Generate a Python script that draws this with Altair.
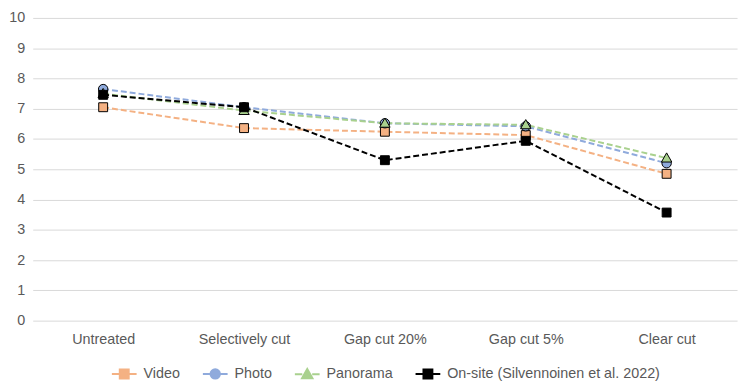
import altair as alt
import pandas as pd

categories = ["Untreated", "Selectively cut", "Gap cut 20%", "Gap cut 5%", "Clear cut"]
series = ["Video", "Photo", "Panorama", "On-site (Silvennoinen et al. 2022)"]
video = [7.05, 6.36, 6.24, 6.13, 4.85]
photo = [7.65, 7.05, 6.52, 6.42, 5.20]
panorama = [7.50, 6.94, 6.52, 6.47, 5.37]
onsite = [7.46, 7.05, 5.30, 5.94, 3.57]
y_ticks = list(range(0, 11))

line_colors = ["#F4B183", "#8FAADC", "#A9D18E", "#000000"]
fill_colors = ["#F4B183", "#8FAADC", "#A9D18E", "#000000"]

# marker shapes (drawn in [-1,1] box, scaled by size)
sq = "M-0.36,-0.36L0.36,-0.36L0.36,0.36L-0.36,0.36Z"
circ = "M-0.38,0A0.38,0.38 0 1,1 0.38,0A0.38,0.38 0 1,1 -0.38,0Z"
tri = "M0,-0.42L0.42,0.32L-0.42,0.32Z"
shape_paths = [sq, circ, tri, sq]
stub = "M-1,0L-0.4,0M0.4,0L1,0"
legend_paths = [stub + p for p in shape_paths]

rows = []
for s, vals in zip(series, [video, photo, panorama, onsite]):
    for c, v in zip(categories, vals):
        rows.append({"category": c, "series": s, "lseries": "l:" + s, "value": v})
df = pd.DataFrame(rows)

FONT = "Liberation Sans"
GREY = "#595959"
FS = 14.5

x = alt.X(
    "category:N",
    sort=categories,
    scale=alt.Scale(padding=0.5),
    axis=alt.Axis(title=None, labelAngle=0, domain=False, ticks=False, grid=False,
                  labelPadding=12, labelFontSize=FS, labelColor=GREY, labelFont=FONT),
)
y = alt.Y(
    "value:Q",
    scale=alt.Scale(domain=[0, 10], nice=False),
    axis=alt.Axis(title=None, values=y_ticks, domain=False, ticks=False, grid=True,
                  gridColor="#D9D9D9", gridWidth=1, labelPadding=8,
                  labelFontSize=FS, labelColor=GREY, labelFont=FONT),
)

base = alt.Chart(df)

lines = base.mark_line(strokeDash=[6, 3], strokeWidth=2).encode(
    x=x, y=y,
    color=alt.Color("series:N", scale=alt.Scale(domain=series, range=line_colors), legend=None),
)

points = base.mark_point(filled=True, opacity=1, size=625, stroke="black", strokeWidth=1).encode(
    x=x, y=y,
    fill=alt.Fill("series:N", scale=alt.Scale(domain=series, range=fill_colors), legend=None),
    shape=alt.Shape("series:N", scale=alt.Scale(domain=series, range=shape_paths), legend=None),
)

lseries = ["l:" + s for s in series]
leg = alt.Legend(
    orient="none", legendX=79, legendY=346, direction="horizontal", columns=4,
    title=None, symbolSize=625, symbolStrokeWidth=2, symbolOpacity=1,
    labelExpr="slice(datum.label, 2)",
    labelFont=FONT, labelFontSize=FS, labelColor=GREY,
    labelOffset=6, columnPadding=19, labelLimit=400, padding=0,
)
legend_layer = base.mark_point(filled=True, opacity=0, size=625).encode(
    x=x, y=y,
    fill=alt.Fill("lseries:N", scale=alt.Scale(domain=lseries, range=fill_colors), legend=leg),
    stroke=alt.Stroke("lseries:N", scale=alt.Scale(domain=lseries, range=line_colors), legend=leg),
    shape=alt.Shape("lseries:N", scale=alt.Scale(domain=lseries, range=legend_paths), legend=leg),
)

chart = (
    alt.layer(lines, points, legend_layer)
    .resolve_scale(fill="independent", shape="independent", stroke="independent")
    .properties(
        width=712, height=306,
        autosize=alt.AutoSizeParams(type="none"),
        padding={"left": 25, "top": 8, "right": 5, "bottom": 60},
    )
    .configure_view(stroke=None)
)

chart.save("out.html", embed_options={"renderer": "svg", "actions": False})
